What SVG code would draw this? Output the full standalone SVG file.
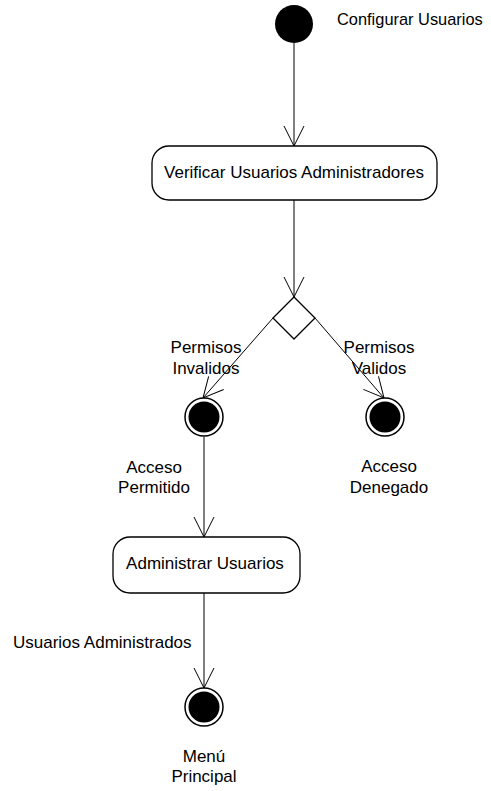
<svg xmlns="http://www.w3.org/2000/svg" width="491" height="791" viewBox="0 0 491 791">
  <style>
    text { font-family: "Liberation Sans", Arial, sans-serif; font-size: 17px; fill: #000; }
    .mid { text-anchor: middle; }
    .action { fill: #fff; stroke: #000; stroke-width: 1.3; }
    .edge { fill: none; stroke: #000; stroke-width: 1; }
    .ring { fill: #fff; stroke: #000; stroke-width: 1.5; }
  </style>
  <defs>
    <marker id="open" markerWidth="24" markerHeight="24" refX="21" refY="11" orient="auto" markerUnits="userSpaceOnUse">
      <path d="M1,1 L21,11 L1,21" fill="none" stroke="#000" stroke-width="1"/>
    </marker>
  </defs>

  <!-- transitions -->
  <g id="connectors">
    <line class="edge" x1="294" y1="43" x2="294" y2="146" marker-end="url(#open)"/>
    <line class="edge" x1="294" y1="200" x2="294" y2="297" marker-end="url(#open)"/>
    <line class="edge" x1="273" y1="318" x2="203" y2="398" marker-end="url(#open)"/>
    <line class="edge" x1="315" y1="318" x2="384" y2="398" marker-end="url(#open)"/>
    <line class="edge" x1="204" y1="437" x2="204" y2="537" marker-end="url(#open)"/>
    <line class="edge" x1="204" y1="593" x2="204" y2="688" marker-end="url(#open)"/>
    <text class="mid" x="206" y="353">Permisos</text>
    <text class="mid" x="206" y="374">Invalidos</text>
    <text class="mid" x="379" y="353">Permisos</text>
    <text class="mid" x="379" y="374">Validos</text>
    <text class="mid" x="154" y="473">Acceso</text>
    <text class="mid" x="154" y="493">Permitido</text>
    <text x="13" y="648">Usuarios Administrados</text>
  </g>

  <g id="start">
    <circle cx="294" cy="24" r="19" fill="#000"/>
    <text x="337" y="25" style="font-size:16.4px">Configurar Usuarios</text>
  </g>

  <g id="verificar">
    <rect class="action" x="152" y="146" width="285" height="54" rx="17" ry="17"/>
    <text class="mid" x="294" y="178">Verificar Usuarios Administradores</text>
  </g>

  <g id="decision">
    <polygon points="294,297 315,318 294,339 273,318" fill="#fff" stroke="#000" stroke-width="1.3"/>
  </g>

  <g id="permitido">
    <circle class="ring" cx="204" cy="417" r="19"/>
    <circle cx="204" cy="417" r="15.5" fill="#000"/>
  </g>

  <g id="denegado">
    <circle class="ring" cx="385" cy="417" r="19"/>
    <circle cx="385" cy="417" r="15.5" fill="#000"/>
    <text class="mid" x="389" y="472">Acceso</text>
    <text class="mid" x="389" y="493">Denegado</text>
  </g>

  <g id="administrar">
    <rect class="action" x="113" y="537" width="187" height="56" rx="17" ry="17"/>
    <text class="mid" x="205" y="569">Administrar Usuarios</text>
  </g>

  <g id="menu">
    <circle class="ring" cx="204" cy="707" r="19"/>
    <circle cx="204" cy="707" r="15.5" fill="#000"/>
    <text class="mid" x="204" y="762">Menú</text>
    <text class="mid" x="204" y="782">Principal</text>
  </g>
</svg>
